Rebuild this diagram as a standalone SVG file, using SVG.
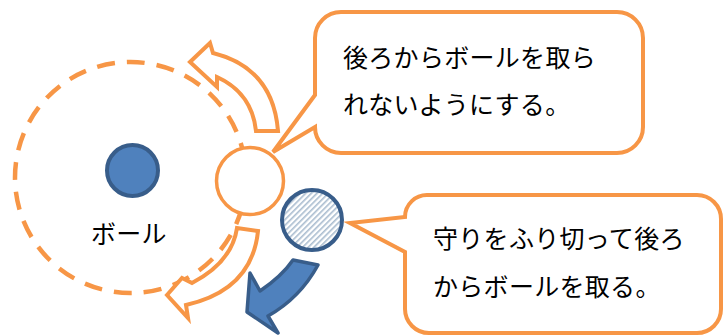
<svg xmlns="http://www.w3.org/2000/svg" width="725" height="336" viewBox="0 0 725 336">
<defs>
<pattern id="hatch" patternUnits="userSpaceOnUse" width="4" height="4" patternTransform="rotate(45)">
<rect x="0" y="0" width="4" height="4" fill="#ffffff"/>
<rect x="0" y="0" width="1.6" height="4" fill="#a9bccf"/>
</pattern>
<style>
.orange{fill:#ffffff;stroke:#F79646;stroke-width:4;stroke-linejoin:miter}
.blue{fill:#4F81BD;stroke:#385D8A;stroke-width:3.5;stroke-linejoin:round}
.txt{font-family:"Noto Sans CJK JP","Noto Sans",sans-serif;font-size:25px;fill:#000000;letter-spacing:0.3px}
</style>
</defs>
<rect width="725" height="336" fill="#ffffff"/>

<g id="range">
<circle cx="130.5" cy="177.5" r="115.5" fill="none" stroke="#F79646" stroke-width="4.5" stroke-dasharray="18 12"/>
</g>

<g id="ball">
<circle cx="132.5" cy="170.5" r="25.5" fill="#4F81BD" stroke="#385D8A" stroke-width="4"/>
<text class="txt" x="91" y="243">ボール</text>
</g>

<g id="connectors">
<path class="orange" d="M190 62 L210 43 L213 53 Q273 68 278 131 L256 131 Q252 93 217 77 L217 87 Z"/>
<path class="orange" d="M167 295 L182 278 L192 283 Q232 262 237 228 L258 231 Q252 290 186 305 L188 318 Z"/>
<path class="blue" d="M247 312 L250 273 L260 291 Q282 276 293 260 L318 265 Q300 298 268 316 L278 333 Z"/>
</g>

<g id="defender">
<circle cx="250" cy="181" r="33.5" fill="#ffffff" stroke="#F79646" stroke-width="3.5"/>
</g>

<g id="attacker">
<circle cx="312" cy="220" r="30" fill="url(#hatch)" stroke="#385D8A" stroke-width="4"/>
</g>

<g id="callout-top">
<path class="orange" d="M341 12 H617 A26 26 0 0 1 643 38 V127 A26 26 0 0 1 617 153 H341 A26 26 0 0 1 315 127 L273 152 L315 95 V38 A26 26 0 0 1 341 12 Z"/>
<text class="txt" x="343" y="67">後ろからボールを取ら</text>
<text class="txt" x="343" y="114">れないようにする。</text>
</g>

<g id="callout-bottom">
<path class="orange" d="M428 195 H697 A24 24 0 0 1 721 219 V309 A24 24 0 0 1 697 333 H429 A24 24 0 0 1 405 309 V252 L350 223 L405 217 A22 22 0 0 1 428 195 Z"/>
<text class="txt" x="433" y="248">守りをふり切って後ろ</text>
<text class="txt" x="433" y="296">からボールを取る。</text>
</g>
</svg>
